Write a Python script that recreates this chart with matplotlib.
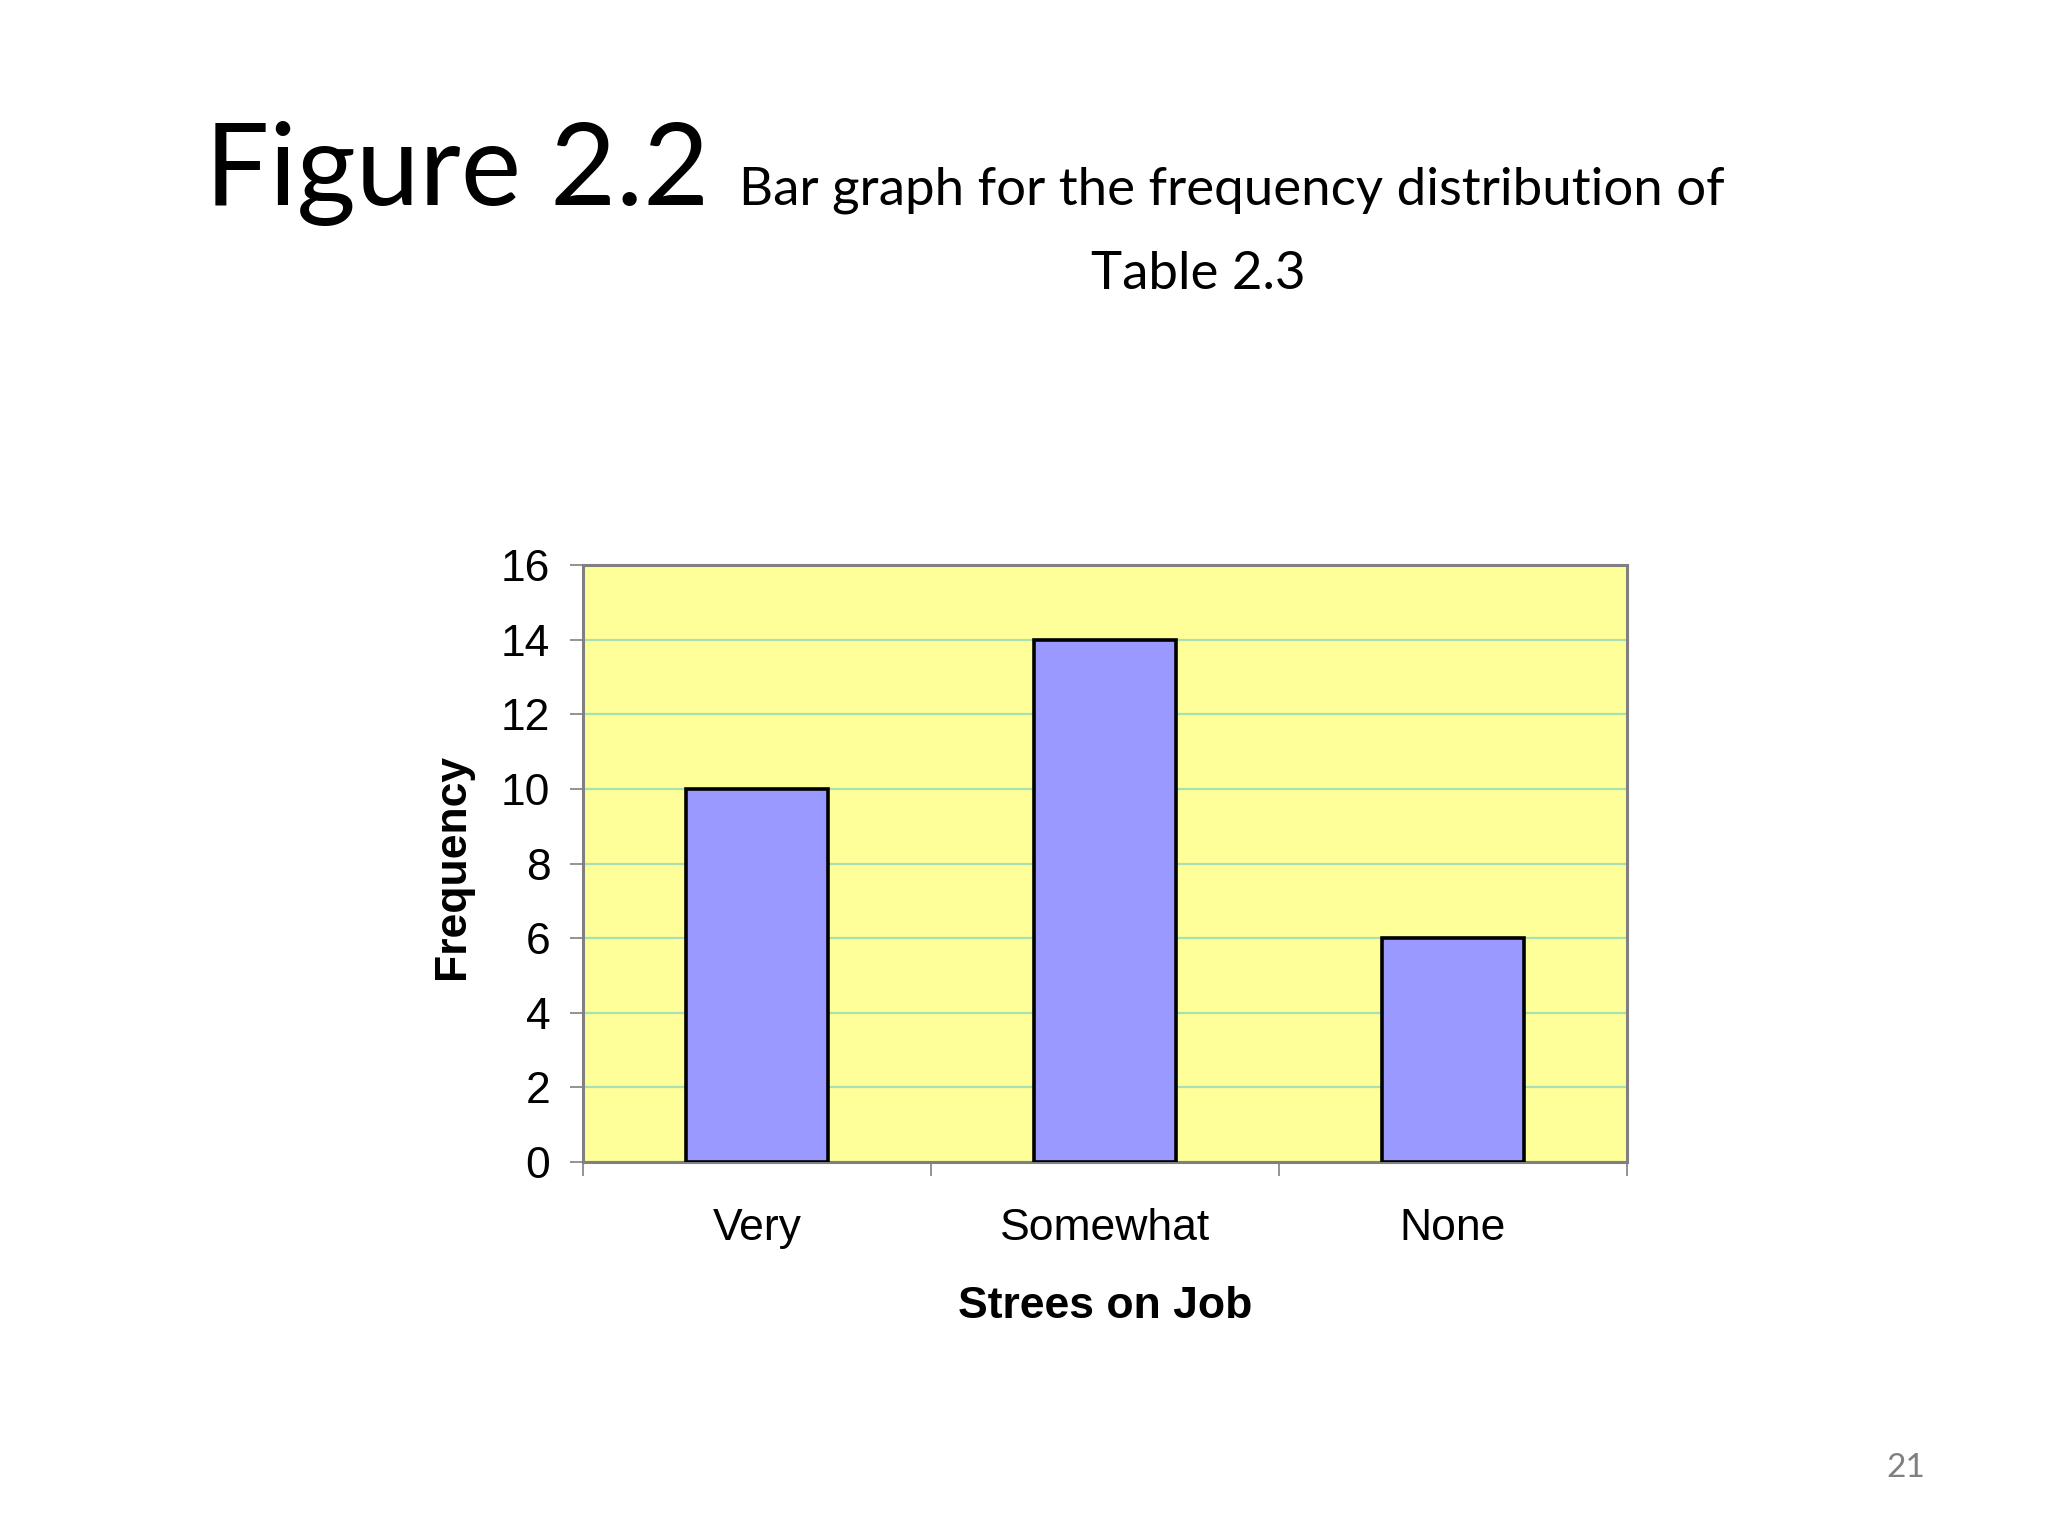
import matplotlib
matplotlib.use("Agg")
import matplotlib.pyplot as plt
from matplotlib.ticker import FixedLocator, NullFormatter

# ---- data ----
categories = ["Very", "Somewhat", "None"]
frequency = [10, 14, 6]
y_ticks = [0, 2, 4, 6, 8, 10, 12, 14, 16]

title_main = "Figure 2.2"
title_sub = "Bar graph for the frequency distribution of"
title_sub2 = "Table 2.3"
x_label = "Strees on Job"
y_label = "Frequency"
page_no = "21"

W, H = 2048, 1536
fig = plt.figure(figsize=(W / 100, H / 100), dpi=100)
fig.patch.set_facecolor("white")

ax = fig.add_axes([583 / W, 1 - 1162 / H, (1627 - 583) / W, (1162 - 565) / H])
ax.set_facecolor("#FFFF99")

x = list(range(len(categories)))
ax.bar(x, frequency, width=0.41, color="#9999FF", edgecolor="black",
       linewidth=2.6, zorder=3)

ax.set_xlim(-0.5, len(categories) - 0.5)
ax.set_ylim(0, 16)
ax.set_yticks(y_ticks)
ax.yaxis.grid(True, color="#A8E0B4", linewidth=1.6, zorder=1)
ax.set_axisbelow(True)

# x: major ticks at category boundaries, labels at centres (minor)
ax.xaxis.set_major_locator(FixedLocator([i - 0.5 for i in range(len(categories) + 1)]))
ax.xaxis.set_major_formatter(NullFormatter())
ax.xaxis.set_minor_locator(FixedLocator(x))
ax.set_xticklabels(categories, minor=True)
ax.tick_params(axis="x", which="major", direction="out", length=10, width=1.2,
               color="#808080")
ax.tick_params(axis="x", which="minor", length=0, pad=33, labelsize=32)
ax.tick_params(axis="y", direction="out", length=9.5, width=1.2, color="#808080",
               pad=14, labelsize=32)

for lab in ax.get_xticklabels(minor=True) + ax.get_yticklabels():
    lab.set_fontfamily(["Liberation Sans", "DejaVu Sans"])

for s in ax.spines.values():
    s.set_color("#808080")
    s.set_linewidth(2.2)

sans = ["Liberation Sans", "DejaVu Sans"]
fig.text(1105 / W, 1 - 1318 / H, x_label, ha="center", va="baseline",
         fontsize=32, fontweight="bold", family=sans)
fig.text(453 / W, 1 - 866 / H, y_label, ha="center", va="center",
         rotation=90, fontsize=32, fontweight="bold", family=sans)

title_font = ["Lato", "DejaVu Sans"]
fig.text(205 / W, 1 - 205 / H, title_main, ha="left", va="baseline",
         fontsize=82, family=title_font)
fig.text(739 / W, 1 - 205 / H, title_sub, ha="left", va="baseline",
         fontsize=38, family=title_font)
fig.text(1198 / W, 1 - 289 / H, title_sub2, ha="center", va="baseline",
         fontsize=38, family=title_font)
fig.text(1906 / W, 1 - 1477 / H, page_no, ha="center", va="baseline",
         fontsize=24, color="#808080", family=title_font)

fig.savefig("out.png", dpi=100)
